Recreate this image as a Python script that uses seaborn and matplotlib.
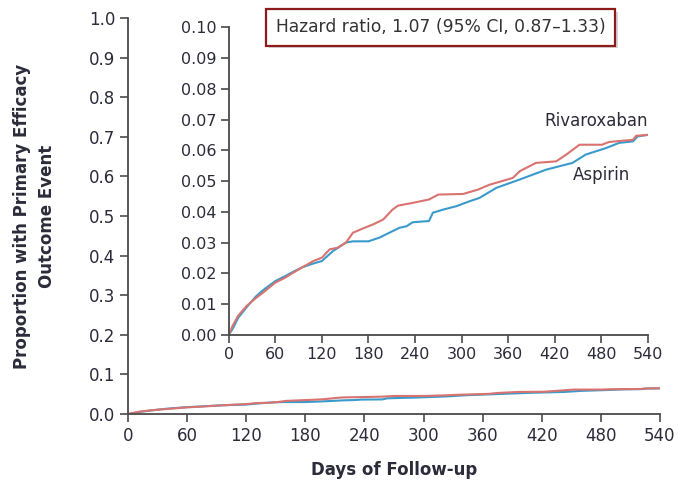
import matplotlib
matplotlib.use("Agg")
import matplotlib.pyplot as plt
import matplotlib.patheffects as pe
import seaborn as sns
import pandas as pd
import numpy as np

# ---- data ----
days_riva = [0, 5, 12, 23, 35, 44, 60, 72, 83, 95, 109, 120, 130, 140, 151, 160, 172, 186,
             199, 211, 218, 237, 258, 270, 302, 321, 336, 366, 375, 396, 422, 435, 452, 481,
             490, 521, 525, 540]
prop_riva = [0, 0.003, 0.0062, 0.0094, 0.012, 0.0137, 0.017, 0.0185, 0.0202, 0.022, 0.024,
             0.0251, 0.0278, 0.0283, 0.030, 0.0332, 0.0345, 0.0359, 0.0375, 0.0407, 0.042,
             0.0429, 0.044, 0.0456, 0.0458, 0.0472, 0.0488, 0.051, 0.0532, 0.0559, 0.0564,
             0.0586, 0.0618, 0.0618, 0.0627, 0.0634, 0.0647, 0.065]
days_asp = [0, 5, 12, 23, 35, 44, 60, 72, 83, 95, 109, 120, 134, 151, 160, 180, 194, 211, 220,
            229, 237, 258, 263, 276, 293, 310, 323, 345, 375, 409, 443, 460, 486, 503, 521,
            527, 540]
prop_asp = [0, 0.002, 0.0055, 0.009, 0.0125, 0.0145, 0.0175, 0.019, 0.0205, 0.022, 0.0232,
            0.024, 0.0272, 0.0300, 0.0304, 0.0304, 0.0316, 0.0337, 0.0348, 0.0353, 0.0366,
            0.0370, 0.0397, 0.0407, 0.0418, 0.0434, 0.0445, 0.0478, 0.0505, 0.0537, 0.0559,
            0.0586, 0.0607, 0.0624, 0.0629, 0.0645, 0.065]

series_names = ["Rivaroxaban", "Aspirin"]
x_ticks = [0, 60, 120, 180, 240, 300, 360, 420, 480, 540]
main_yticks = [0.0, 0.1, 0.2, 0.3, 0.4, 0.5, 0.6, 0.7, 0.8, 0.9, 1.0]
inset_yticks = [0.00, 0.01, 0.02, 0.03, 0.04, 0.05, 0.06, 0.07, 0.08, 0.09, 0.10]
hazard_text = "Hazard ratio, 1.07 (95% CI, 0.87\u20131.33)"
x_label = "Days of Follow-up"
y_label = "Proportion with Primary Efficacy\nOutcome Event"

df = pd.concat([
    pd.DataFrame({"day": days_riva, "prop": prop_riva, "group": series_names[0]}),
    pd.DataFrame({"day": days_asp, "prop": prop_asp, "group": series_names[1]}),
], ignore_index=True)

sns.set_theme(style="ticks")
plt.rcParams['font.family'] = ['DejaVu Sans']

palette = {"Rivaroxaban": "#d9736f", "Aspirin": "#3a9acb"}
spine_col = "#4a4a4a"
text_col = "#2b2b3a"

fig = plt.figure(figsize=(6.79, 4.86), dpi=100)
ax = fig.add_axes([0.1885, 0.148, 0.7835, 0.815])
ins = fig.add_axes([0.337, 0.311, 0.617, 0.633])

for a, yt, fmt in [(ax, main_yticks, "{:.1f}"), (ins, inset_yticks, "{:.2f}")]:
    sns.lineplot(data=df, x="day", y="prop", hue="group", palette=palette,
                 hue_order=["Aspirin", "Rivaroxaban"], ax=a, legend=False,
                 linewidth=1.5, estimator=None)
    a.set_xlim(0, 540)
    a.set_ylim(yt[0], yt[-1])
    a.set_xticks(x_ticks)
    a.set_xticklabels([str(t) for t in x_ticks])
    a.set_yticks(yt)
    a.set_yticklabels([fmt.format(t) for t in yt])
    a.margins(0)
    for s in ["top", "right"]:
        a.spines[s].set_visible(False)
    for s in ["left", "bottom"]:
        a.spines[s].set_color(spine_col)
        a.spines[s].set_linewidth(1.3)
    a.tick_params(axis="both", direction="out", length=6, width=1.2, color=spine_col,
                  labelsize=12, labelcolor=text_col, pad=3)
    a.set_xlabel("")
    a.set_ylabel("")
    a.patch.set_alpha(0)

ins.patch.set_alpha(1)
ins.patch.set_facecolor("white")
ins.tick_params(labelsize=11.5)

ax.set_xlabel(x_label, fontsize=12, fontweight="bold", color=text_col, labelpad=12)
ax.set_ylabel(y_label, fontsize=12, fontweight="bold", color=text_col, labelpad=24,
              linespacing=1.45)

ins.text(474, 0.0665, "Rivaroxaban", fontsize=12, color=text_col, ha="center", va="bottom")
ins.text(481, 0.0521, "Aspirin", fontsize=12, color=text_col, ha="center", va="center")

# hazard box with a soft shadow
hz = fig.text(0.649, 0.944, hazard_text, fontsize=12.3, color="#333333", ha="center",
              va="center",
              bbox=dict(boxstyle="square,pad=0.55", fc="white", ec="#8e1b1b", lw=1.6))
hz.get_bbox_patch().set_path_effects([
    pe.SimplePatchShadow(offset=(2, -2), shadow_rgbFace="#bbbbbb", alpha=0.6),
    pe.Normal()])

fig.savefig("out.png", dpi=100)
